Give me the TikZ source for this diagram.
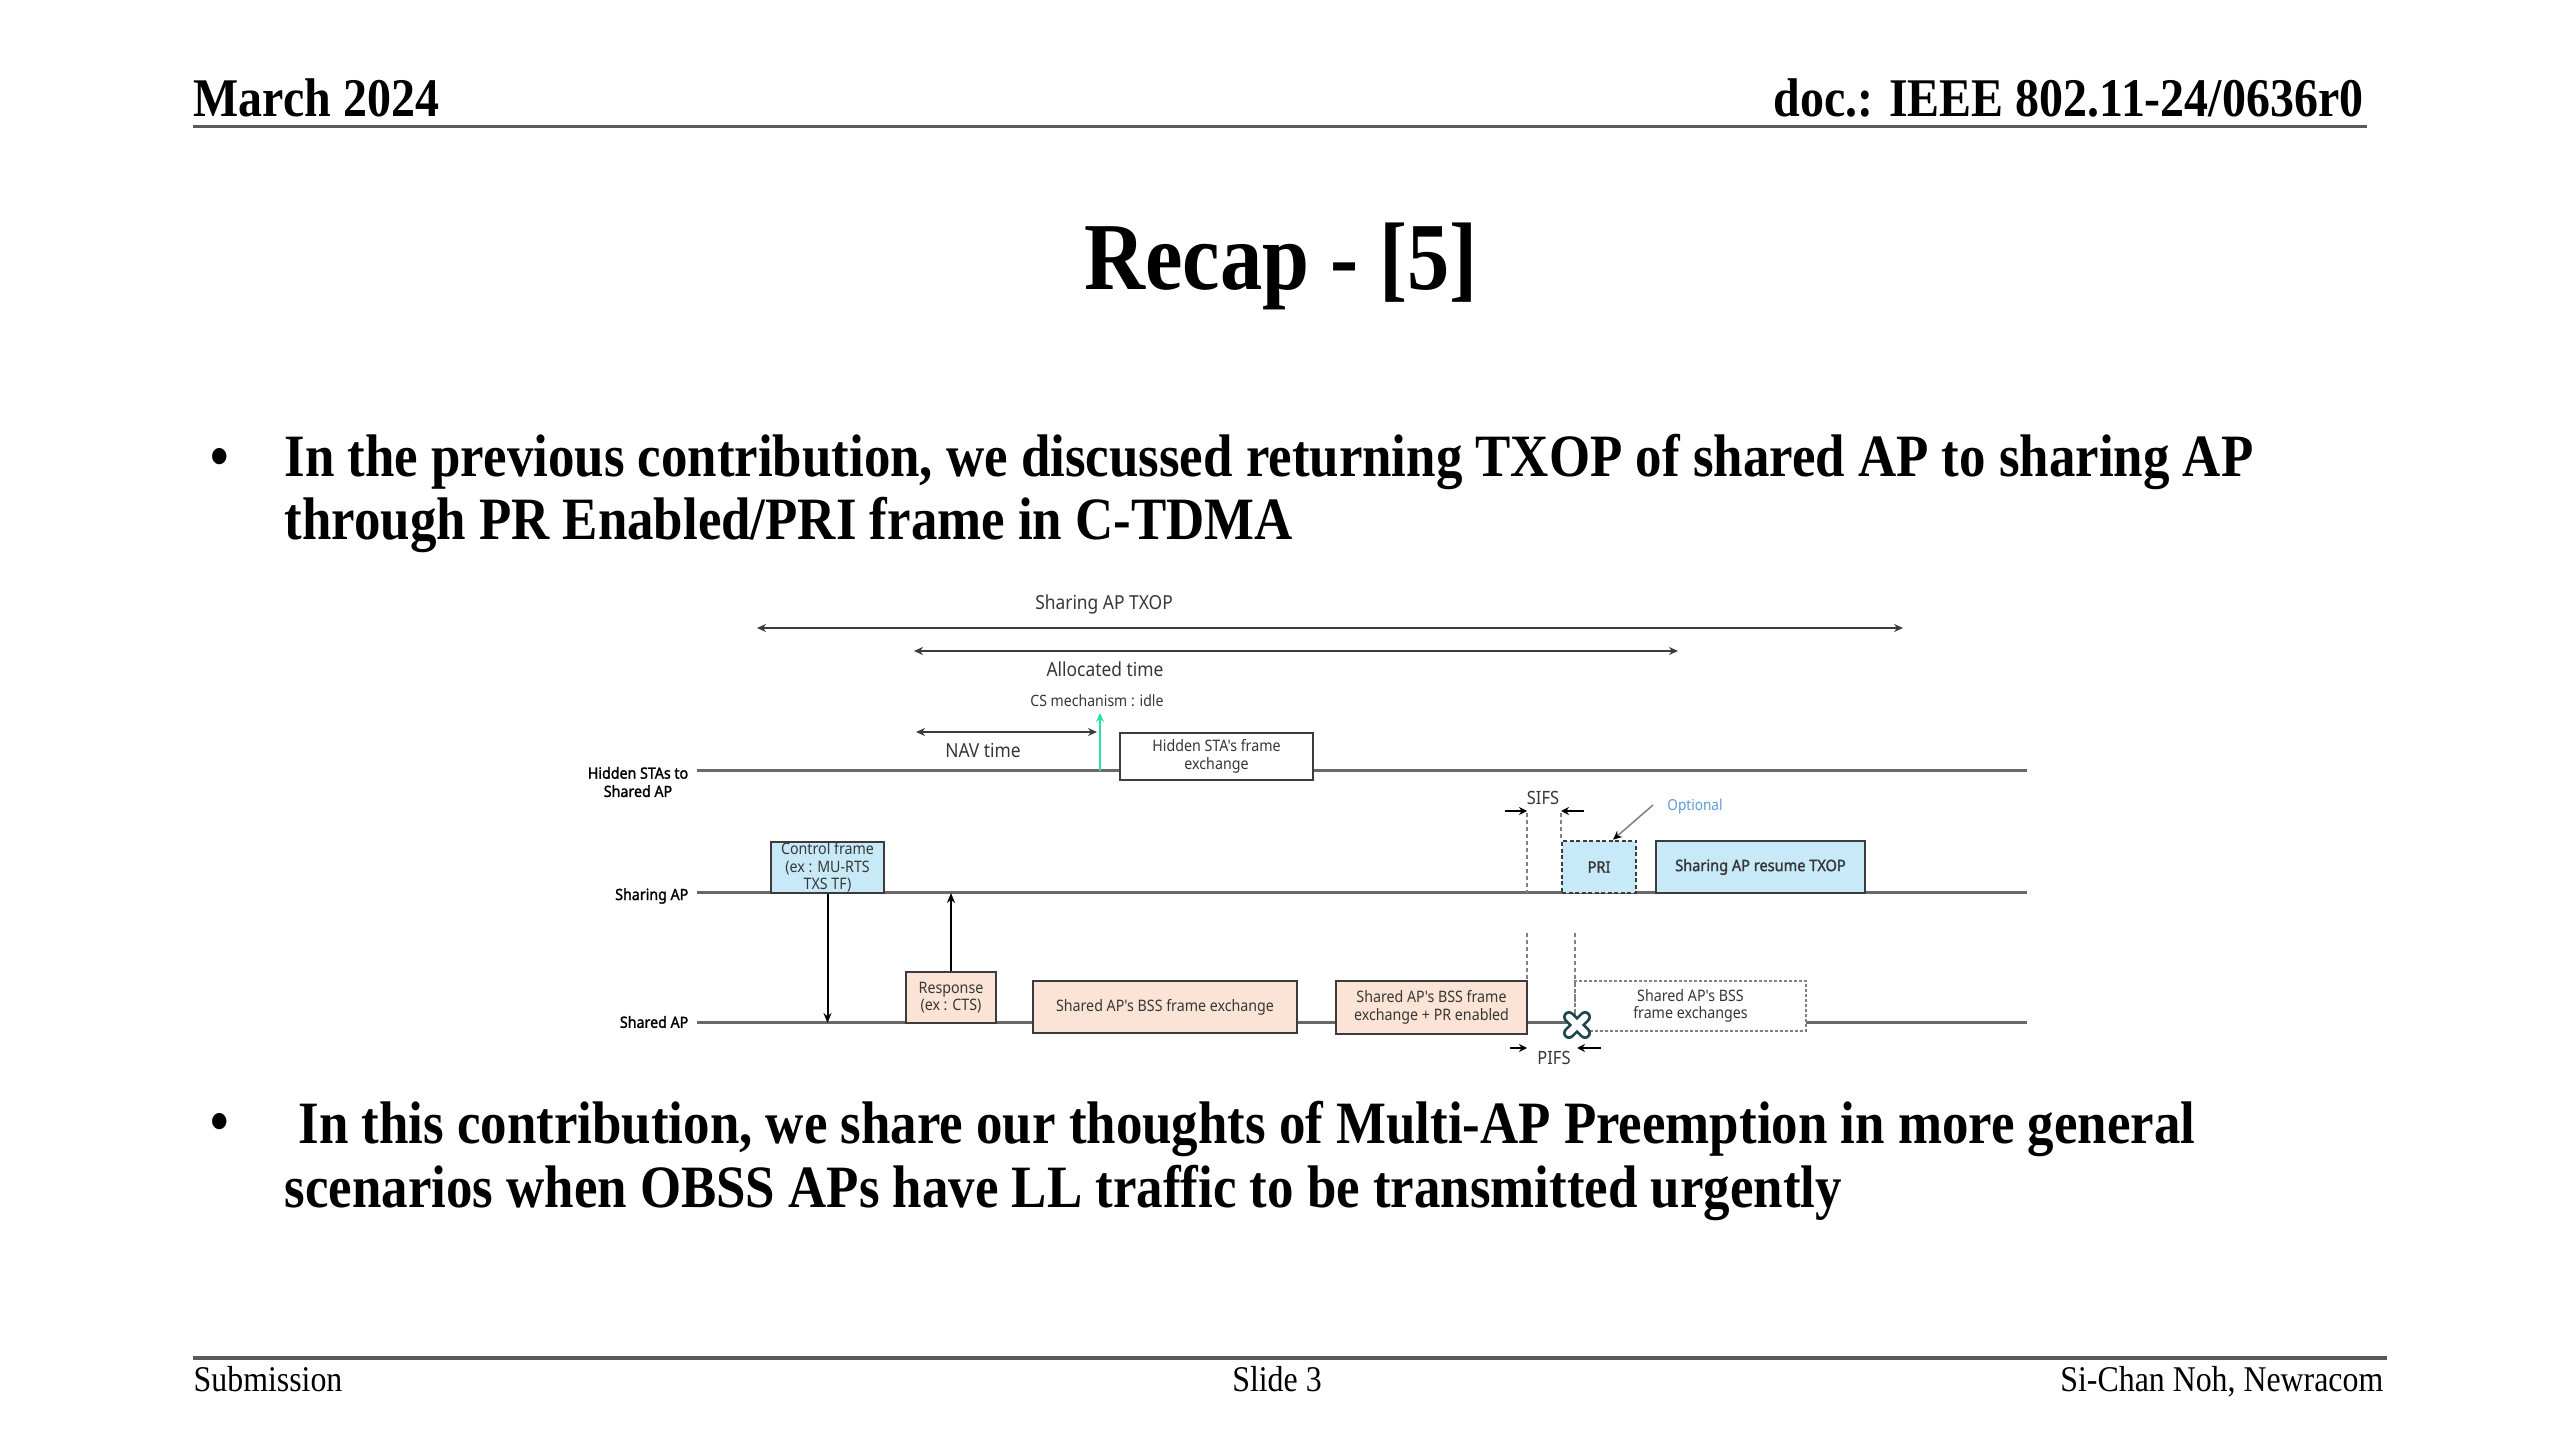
\documentclass[tikz,border=0pt]{standalone}
\usepackage{fontspec}
\setmainfont{Liberation Serif}[FakeStretch=0.88]
\newfontfamily\dg{Noto Sans}[FakeStretch=0.9]
\newfontfamily\dgb{Noto Sans}[FakeStretch=0.92,FakeBold=1.6]
\usetikzlibrary{arrows.meta}
\definecolor{tlgray}{RGB}{105,105,105}
\definecolor{bdr}{RGB}{60,60,60}
\definecolor{lblue}{RGB}{200,234,248}
\definecolor{peach}{RGB}{251,228,213}
\definecolor{csgreen}{RGB}{40,225,160}
\definecolor{optblue}{RGB}{91,155,213}
\definecolor{xteal}{RGB}{30,70,80}
\definecolor{txt}{RGB}{55,55,55}
\definecolor{rulegray}{RGB}{90,90,90}
\begin{document}
\begin{tikzpicture}[x=0.1mm,y=-0.1mm,
  tline/.style={draw=tlgray,line width=0.3mm},
  frm/.style={draw=bdr,line width=0.25mm,inner sep=0pt,align=center,text=txt,
    font=\dg\fontsize{4.5}{5}\selectfont},
  lbl/.style={inner sep=0pt,text=txt,font=\dg\fontsize{5.5}{6.5}\selectfont},
  small/.style={inner sep=0pt,text=txt,font=\dg\fontsize{4.45}{5.3}\selectfont},
  rowlbl/.style={inner sep=0pt,text=black,align=center,font=\dgb\fontsize{4.4}{5.2}\selectfont},
  dimarr/.style={draw=bdr,line width=0.2mm,{Stealth[length=0.9mm,width=0.8mm]}-{Stealth[length=0.9mm,width=0.8mm]}},
  varr/.style={draw=black,line width=0.2mm,-{Stealth[length=1mm,width=0.8mm]}},
  sarr/.style={draw=black,line width=0.25mm,-{Stealth[length=0.8mm,width=0.8mm]}},
  vdash/.style={draw=gray,line width=0.15mm,dash pattern=on 0.4mm off 0.3mm},
  hdr/.style={inner sep=0pt,font=\bfseries\fontsize{15.5}{18}\selectfont},
  ftr/.style={inner sep=0pt,font=\fontsize{10.3}{12}\selectfont},
  bul/.style={inner sep=0pt,font=\bfseries\fontsize{17.1}{20}\selectfont}
]
\useasboundingbox (0,0) rectangle (2560,1440);
\fill[white] (0,0) rectangle (2560,1440);

% header / footer
\node[hdr,anchor=base west] (date) at (193,117) {March 2024};
\node[hdr,anchor=base east] (doc) at (2364,117) {doc.: IEEE 802.11-24/0636r0};
\coordinate (hrL) at (193,127); \coordinate (hrR) at (2367,127);
\draw[rulegray,line width=0.3mm] (hrL) -- (hrR);
\node[inner sep=0pt,anchor=base,font=\bfseries\fontsize{27.3}{32}\selectfont] (title) at (1281,290) {Recap - [5]};
\coordinate (frL) at (193,1358); \coordinate (frR) at (2387,1358);
\draw[rulegray,line width=0.35mm] (frL) -- (frR);
\node[ftr,anchor=base west] (sub) at (193,1391) {Submission};
\node[ftr,anchor=base] (slide) at (1277,1391) {Slide 3};
\node[ftr,anchor=base east] (auth) at (2384,1391) {Si-Chan Noh, Newracom};

% bullets
\node[bul,anchor=base] (b1) at (220,477) {•};
\node[bul,anchor=base west] (b1a) at (284,477) {In the previous contribution, we discussed returning TXOP of shared AP to sharing AP};
\node[bul,anchor=base west] (b1b) at (284,540) {through PR Enabled/PRI frame in C-TDMA};
\node[bul,anchor=base] (b2) at (220,1141) {•};
\node[bul,anchor=base west] (b2a) at (298,1143) {In this contribution, we share our thoughts of Multi-AP Preemption in more general};
\node[bul,anchor=base west] (b2b) at (284,1207) {scenarios when OBSS APs have LL traffic to be transmitted urgently};

% timelines
\coordinate (hL) at (697,771); \coordinate (hR) at (2027,771);
\coordinate (sL) at (697,893); \coordinate (sR) at (2027,893);
\coordinate (dL) at (697,1023); \coordinate (dR) at (2027,1023);
\draw[tline] (hL) -- (hR);
\draw[tline] (sL) -- (sR);
\draw[tline] (dL) -- (dR);
\node[rowlbl] (lh) at (638,782) {Hidden STAs to\\Shared AP};
\node[rowlbl,anchor=east] (ls) at (689,896) {Sharing AP};
\node[rowlbl,anchor=east] (ld) at (689,1022) {Shared AP};

% top dimension arrows
\coordinate (txL) at (757,628); \coordinate (txR) at (1903,628);
\draw[dimarr] (txL) -- (txR);
\node[lbl] (txl) at (1104,604) {Sharing AP TXOP};
\coordinate (alL) at (914,651); \coordinate (alR) at (1678,651);
\draw[dimarr] (alL) -- (alR);
\node[lbl] (all) at (1105,669) {Allocated time};
\node[small] (cs) at (1097,701) {CS mechanism : idle};
\coordinate (navL) at (916,732); \coordinate (navR) at (1097,732);
\draw[dimarr] (navL) -- (navR);
\node[lbl] (navl) at (983,750) {NAV time};
\coordinate (gB) at (1100,771); \coordinate (gT) at (1100,713);
\draw[csgreen,line width=0.25mm,-{Stealth[length=0.9mm,width=0.8mm]}] (gB) -- (gT);

% boxes
\node[frm,fill=white,minimum width=19.3mm,minimum height=4.7mm] (hid) at (1216.5,756.5) {Hidden STA's frame\\exchange};
\node[frm,fill=lblue,minimum width=11.3mm,minimum height=5.1mm] (ctrl) at (827.5,867.5) {Control frame\\(ex : MU-RTS\\TXS TF)};
\node[frm,fill=peach,minimum width=9mm,minimum height=5.1mm] (resp) at (951,997.5) {Response\\(ex : CTS)};
\node[frm,fill=peach,minimum width=26.4mm,minimum height=5.2mm] (bss1) at (1165,1007) {Shared AP's BSS frame exchange};
\node[frm,fill=peach,minimum width=19.1mm,minimum height=5.3mm] (bss2) at (1431.5,1007.5) {Shared AP's BSS frame\\exchange + PR enabled};
\node[frm,fill=lblue,dash pattern=on 0.4mm off 0.25mm,minimum width=7.4mm,minimum height=5.2mm,font=\dgb\fontsize{4.5}{5.5}\selectfont] (pri) at (1599,867) {PRI};
\node[frm,fill=lblue,minimum width=20.9mm,minimum height=5.2mm,font=\dgb\fontsize{4.5}{5.5}\selectfont] (resume) at (1760.5,867) {Sharing AP resume TXOP};
\node[frm,draw=gray,fill=white,dash pattern=on 0.3mm off 0.2mm,minimum width=23.1mm,minimum height=5mm] (bss3) at (1690.5,1006) {Shared AP's BSS\\frame exchanges};

% vertical exchange arrows
\draw[varr] (ctrl.south) -- (ctrl.south |- dL);
\draw[varr] (resp.north) -- (resp.north |- sL);

% SIFS / PIFS guides
\coordinate (g1t) at (1527,813); \coordinate (g1b) at (1527,893);
\coordinate (g2t) at (1561,813); \coordinate (g2b) at (1561,841);
\coordinate (g3t) at (1527,933); \coordinate (g3b) at (1527,981);
\coordinate (g4t) at (1575,933); \coordinate (g4b) at (1575,1023);
\draw[vdash] (g1t) -- (g1b);
\draw[vdash] (g2t) -- (g2b);
\draw[vdash] (g3t) -- (g3b);
\draw[vdash] (g4t) -- (g4b);
\coordinate (s1a) at (1505,811); \coordinate (s1b) at (1527,811);
\coordinate (s2a) at (1584,811); \coordinate (s2b) at (1561,811);
\draw[sarr] (s1a) -- (s1b);
\draw[sarr] (s2a) -- (s2b);
\node[lbl,font=\dg\fontsize{5.2}{6}\selectfont] (sifs) at (1543,798) {SIFS};
\coordinate (p1a) at (1510,1048); \coordinate (p1b) at (1527,1048);
\coordinate (p2a) at (1601,1048); \coordinate (p2b) at (1577,1048);
\draw[sarr] (p1a) -- (p1b);
\draw[sarr] (p2a) -- (p2b);
\node[lbl,font=\dg\fontsize{5.2}{6}\selectfont] (pifs) at (1554,1058) {PIFS};

% optional annotation
\node[inner sep=0pt,text=optblue,font=\dg\fontsize{4.3}{5}\selectfont] (opt) at (1695,807) {Optional};
\coordinate (optS) at (1653,805);
\draw[gray,line width=0.15mm,-{Stealth[length=0.9mm,width=0.8mm,black]}] (optS) -- ([xshift=1.4mm]pri.north);

% X mark
\node[inner sep=0pt,minimum size=2mm] (xm) at (1577,1025) {};
\draw[xteal,line width=1.2mm,line cap=round] ([shift={(-8,-8)}]xm.center) -- ([shift={(8,8)}]xm.center)
  ([shift={(-8,8)}]xm.center) -- ([shift={(8,-8)}]xm.center);
\draw[white,line width=0.65mm,line cap=round] ([shift={(-8,-8)}]xm.center) -- ([shift={(8,8)}]xm.center)
  ([shift={(-8,8)}]xm.center) -- ([shift={(8,-8)}]xm.center);
\end{tikzpicture}
\end{document}
